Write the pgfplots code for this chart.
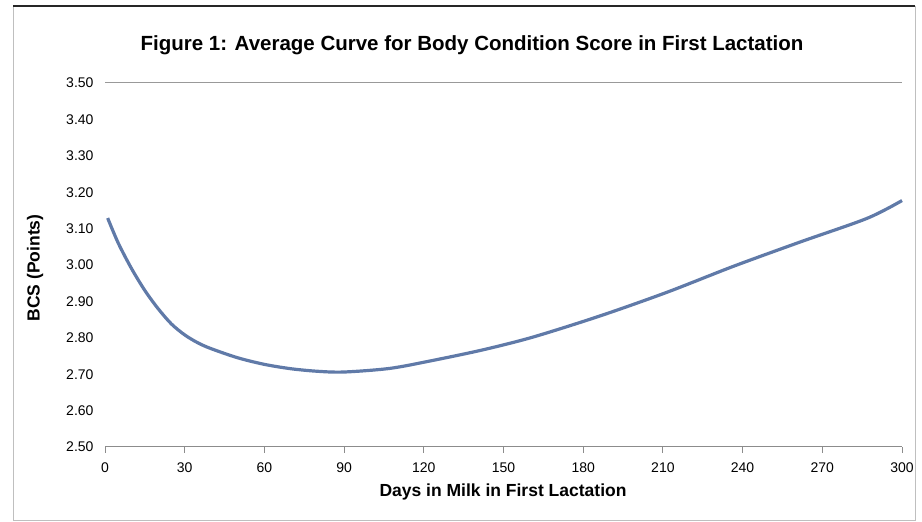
\documentclass[border=0pt]{standalone}
\usepackage{pgfplots}
\pgfplotsset{compat=1.18}
\usepackage{fontspec}
\setmainfont{Liberation Sans}
\definecolor{curve}{RGB}{96,122,168}
\begin{document}
\begin{tikzpicture}[x=1pt,y=1pt]
\path[use as bounding box] (0,0) rectangle (922,522);
\draw[black!25, line width=0.8pt] (13,2) rectangle (915,516);
\draw[black!85, line width=2pt] (13,516) -- (915,516);
\node[font=\fontsize{20.5}{24}\selectfont\bfseries] at (472,477) {Figure 1: Average Curve for Body Condition Score in First Lactation};
\node[font=\fontsize{17.5}{20}\selectfont\bfseries, rotate=90] at (35,254) {BCS (Points)};
\node[font=\fontsize{17.5}{20}\selectfont\bfseries] at (503,30) {Days in Milk in First Lactation};
\begin{axis}[
  at={(105pt,75pt)}, anchor=south west,
  scale only axis, width=797pt, height=364pt,
  xmin=0, xmax=300, ymin=2.5, ymax=3.5,
  xtick={0,30,...,300},
  ytick={2.5,2.6,...,3.51},
  yticklabel style={xshift=-2pt, /pgf/number format/fixed, /pgf/number format/fixed zerofill, /pgf/number format/precision=2},
  xticklabel style={yshift=-6pt},
  /pgf/number format/assume math mode=true,
  tick label style={font=\fontsize{14}{17}\selectfont},
  axis x line*=bottom, axis y line*=left,
  x axis line style={black!45, line width=1pt},
  y axis line style={draw=none},
  xtick style={black!45, line width=1pt},
  tick align=outside, major tick length=6pt,
  ytick style={draw=none},
  clip=false,
]
\addplot[black!40, line width=1pt, forget plot] coordinates {(0,3.5) (300,3.5)};
\addplot[curve, line width=3.2pt, smooth, tension=0.5] coordinates {
(1,3.129) (5,3.060) (10,2.990) (15,2.930) (20,2.880) (25,2.838) (30,2.808)
(35,2.786) (40,2.770) (50,2.745) (60,2.727) (70,2.715) (80,2.708) (90,2.706)
(107.3,2.716) (123.5,2.738) (142.3,2.767) (161.1,2.802) (186.3,2.860)
(211.5,2.925) (236.4,2.996) (261.6,3.063) (286.8,3.128) (300,3.177)
};
\end{axis}
\end{tikzpicture}
\end{document}
